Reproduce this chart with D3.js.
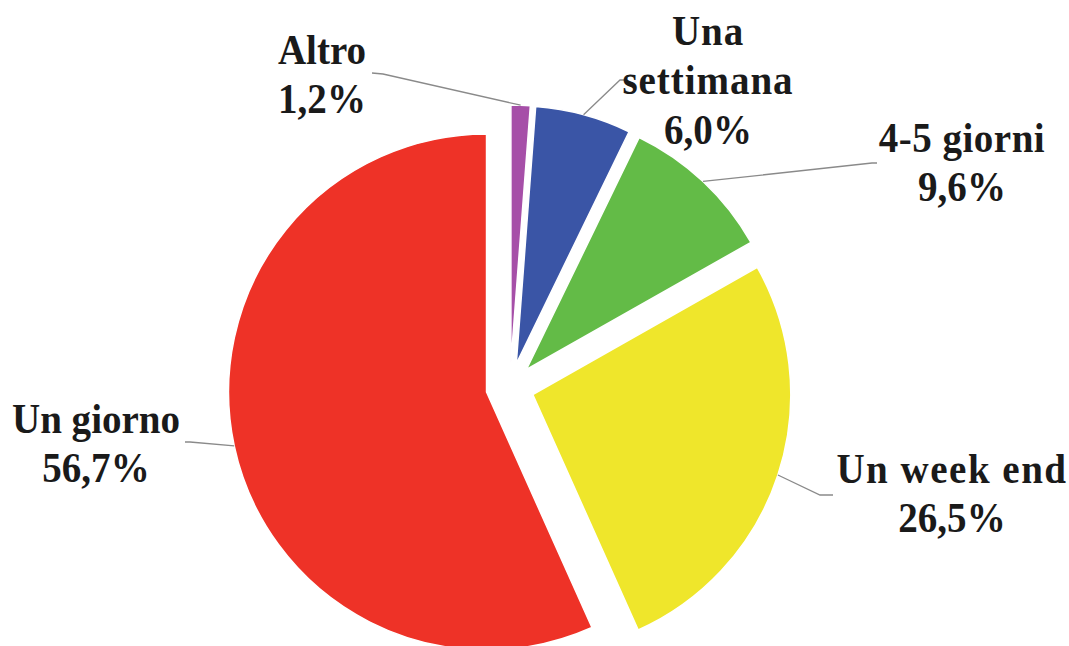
<!DOCTYPE html>
<html>
<head>
<meta charset="utf-8">
<script src="https://cdn.jsdelivr.net/npm/d3@7"></script>
<style>
  html, body { margin: 0; padding: 0; background: #ffffff; }
  svg { display: block; }
  .lbl { font-family: "Liberation Serif", "Times New Roman", serif; font-weight: bold; font-size: 42px; fill: #1a1a1a; }
</style>
</head>
<body>
<svg id="chart" width="1069" height="646"></svg>
<script>
// Durata della vacanza
const categories = ["Altro", "Una settimana", "4-5 giorni", "Un week end", "Un giorno"];
const values = [1.2, 6.0, 9.6, 26.5, 56.7];
const valueLabels = ["1,2%", "6,0%", "9,6%", "26,5%", "56,7%"];
const colors = ["#a64fa8", "#3a55a6", "#63bb47", "#efe62b", "#ee3227"];

// label placement: text lines, centre x, first baseline, leader knee and end
const labelLayout = [
  { lines: ["Altro"], x: 322, y: 64, knee: [383, 74], end: [372, 73], spacing: 0 },
  { lines: ["Una", "settimana"], x: 708, y: 45, knee: [620, 80], end: [626, 80], spacing: 1 },
  { lines: ["4-5 giorni"], x: 962, y: 152, knee: [872, 163], end: [877, 163], spacing: 0.5 },
  { lines: ["Un week end"], x: 952, y: 483, knee: [820, 495], end: [833, 495], spacing: 1.6 },
  { lines: ["Un giorno"], x: 96, y: 433, knee: [190, 442], end: [185, 442], spacing: 0 }
];

const cx = 510, cy = 387, radius = 258, explode = 24, lineGap = 49.5, squeeze = 0.93;

const svg = d3.select("#chart");
const g = svg.append("g").attr("transform", `translate(${cx},${cy})`);

const pie = d3.pie().sort(null).value(d => d.value).startAngle(0).endAngle(2 * Math.PI);
const arc = d3.arc().innerRadius(0).outerRadius(radius);

const data = categories.map((c, i) => ({ name: c, value: values[i], label: valueLabels[i], color: colors[i], layout: labelLayout[i] }));
const arcs = pie(data);

const offset = a => {
  const mid = (a.startAngle + a.endAngle) / 2;
  return [Math.sin(mid) * explode, -Math.cos(mid) * explode];
};

g.selectAll("path.slice")
  .data(arcs)
  .join("path")
  .attr("class", "slice")
  .attr("transform", d => { const o = offset(d); return `translate(${o[0]},${o[1]})`; })
  .attr("d", arc)
  .attr("fill", d => d.data.color)
  .attr("stroke", "#ffffff")
  .attr("stroke-width", 1.5)
  .attr("stroke-linejoin", "round");

// leader lines from the slice's outer edge at its bisector
const leaders = svg.append("g");
arcs.forEach(a => {
  const mid = (a.startAngle + a.endAngle) / 2;
  const o = offset(a);
  const sx = cx + o[0] + Math.sin(mid) * radius;
  const sy = cy + o[1] - Math.cos(mid) * radius;
  const L = a.data.layout;
  leaders.append("path")
    .attr("d", d3.line()([[sx, sy], L.knee, L.end]))
    .attr("fill", "none")
    .attr("stroke", "#8a8a8a")
    .attr("stroke-width", 1.3);
});

// labels: category name lines followed by the percentage (slightly condensed face)
const labels = svg.append("g");
arcs.forEach(a => {
  const L = a.data.layout;
  const t = labels.append("text")
    .attr("class", "lbl")
    .attr("text-anchor", "middle")
    .attr("transform", `translate(${L.x},0) scale(${squeeze},1)`);
  const allLines = L.lines.concat([a.data.label]);
  allLines.forEach((ln, j) => {
    t.append("tspan")
      .attr("x", 0)
      .attr("y", L.y + j * lineGap)
      .attr("letter-spacing", j < L.lines.length ? L.spacing : 0)
      .text(ln);
  });
});
</script>
</body>
</html>
